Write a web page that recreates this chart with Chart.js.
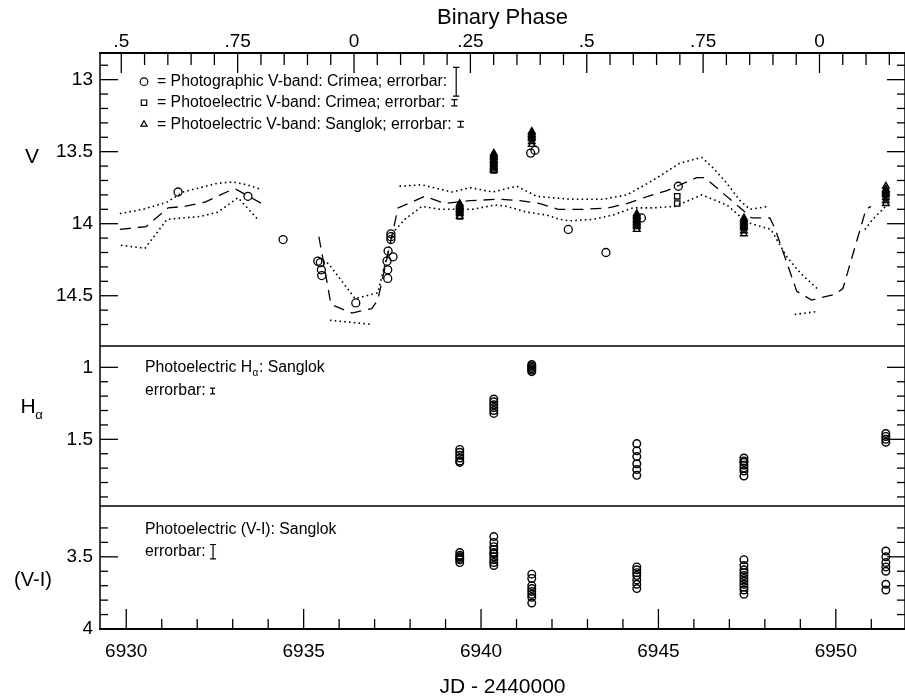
<!DOCTYPE html>
<html>
<head>
<meta charset="utf-8">
<title>V, Hα and (V-I) light curves</title>
<script src="https://cdn.jsdelivr.net/npm/chart.js@4.4.1/dist/chart.umd.min.js"></script>
<style>
html,body{margin:0;padding:0;background:#ffffff;}
#box{position:relative;width:905px;height:698px;}
canvas{display:block;}
</style>
</head>
<body>
<div id="box"><canvas id="chart" width="905" height="698"></canvas></div>
<script>
// ================= DATA (JD - 2440000) =================
const T0 = 6936.42;     // epoch of binary phase 0
const PERIOD = 13.12;   // orbital period (days)
const phaseTickPhases = [-0.5, -0.25, 0, 0.25, 0.5, 0.75, 1.0];
const phaseTickLabels = ['.5', '.75', '0', '.25', '.5', '.75', '0'];
const jdTicks = [6930, 6935, 6940, 6945, 6950];
const vTicks = [13, 13.5, 14, 14.5];
const haTicks = [1, 1.5];
const viTicks = [3.5, 4];

// Photographic V-band: Crimea (open circles)
const photoJD = [6931.46, 6933.43, 6934.42, 6935.40, 6935.47, 6935.50, 6935.51, 6936.47,
                 6937.35, 6937.37, 6937.37, 6937.38, 6937.52, 6937.46, 6937.46, 6937.46,
                 6941.40, 6941.52, 6942.46, 6943.52, 6944.52, 6945.56];
const photoV  = [13.78, 13.81, 14.11, 14.26, 14.27, 14.32, 14.36, 14.55,
                 14.26, 14.32, 14.38, 14.19, 14.23, 14.07, 14.09, 14.11,
                 13.51, 13.49, 14.04, 14.20, 13.96, 13.74];

// Photoelectric V-band: Crimea (squares)
const crimeaJD = [6945.53, 6945.53, 6940.36, 6939.40];
const crimeaV  = [13.81, 13.86, 13.63, 13.95];

// Sanglok nights and photoelectric measurements
const sanglokNights = [6939.40, 6940.36, 6941.43, 6944.39, 6947.41, 6951.41];
const sanglokV = [
  [13.86, 13.87, 13.88, 13.89, 13.90, 13.91, 13.92, 13.93, 13.95],
  [13.51, 13.52, 13.53, 13.54, 13.55, 13.56, 13.57, 13.58, 13.59, 13.60, 13.61, 13.62, 13.63],
  [13.36, 13.37, 13.38, 13.39, 13.40, 13.41, 13.43, 13.45],
  [13.93, 13.94, 13.95, 13.96, 13.97, 13.98, 13.99, 14.00, 14.01, 14.02, 14.04],
  [13.96, 13.97, 13.98, 13.99, 14.00, 14.01, 14.02, 14.03, 14.05, 14.07],
  [13.74, 13.76, 13.77, 13.78, 13.79, 13.80, 13.82, 13.84, 13.86]
];
const sanglokHa = [
  [1.57, 1.59, 1.61, 1.63, 1.65, 1.66],
  [1.22, 1.24, 1.26, 1.28, 1.30, 1.32],
  [0.98, 0.99, 1.00, 1.01, 1.02, 1.03],
  [1.53, 1.58, 1.62, 1.67, 1.71, 1.75],
  [1.63, 1.65, 1.66, 1.68, 1.70, 1.72, 1.755],
  [1.46, 1.48, 1.50, 1.52]
];
const sanglokVI = [
  [3.47, 3.49, 3.50, 3.51, 3.52, 3.54],
  [3.36, 3.40, 3.43, 3.45, 3.47, 3.48, 3.50, 3.52, 3.54, 3.56],
  [3.62, 3.65, 3.70, 3.72, 3.74, 3.76, 3.78, 3.82],
  [3.57, 3.59, 3.61, 3.63, 3.66, 3.69, 3.72],
  [3.52, 3.56, 3.59, 3.61, 3.63, 3.65, 3.67, 3.69, 3.71, 3.73, 3.76],
  [3.46, 3.50, 3.54, 3.57, 3.60, 3.69, 3.73]
];

// Model light curve (dashed) and envelopes (dotted); null marks a gap
const modelJD = [6929.82, 6930.56, 6931.18, 6931.65, 6932.22, 6932.92, 6933.09, 6933.82, null,
  6935.43, 6935.77, 6936.36, 6936.92, 6937.09, 6937.66, 6938.42, 6938.98, 6939.69, 6940.53,
  6941.10, 6941.66, 6942.17, 6942.93, 6943.58, 6944.11, 6944.70, 6945.24, 6946.08, 6946.31,
  6947.30, 6947.63, 6948.14, 6948.28, 6948.90, 6949.32, 6949.97, 6950.20, 6950.85, 6950.99];
const modelV = [14.04, 14.02, 13.89, 13.88, 13.85, 13.77, 13.76, 13.86, null,
  14.09, 14.56, 14.62, 14.59, 14.53, 13.89, 13.81, 13.86, 13.84, 13.83,
  13.84, 13.86, 13.90, 13.90, 13.89, 13.86, 13.81, 13.77, 13.68, 13.68,
  13.89, 13.96, 13.96, 14.03, 14.47, 14.53, 14.49, 14.45, 13.90, 13.88];

const envAJD = [6929.82, 6930.47, 6931.15, 6931.60, 6932.56, 6933.01, 6933.40, 6933.77, null,
  6937.70, 6938.33, 6938.84, 6939.18, 6939.69, 6940.33, 6941.01, 6941.57, 6942.50, 6943.43,
  6944.11, 6944.84, 6945.60, 6946.22, 6946.53, 6946.93, 6947.30, 6947.58, 6948.08];
const envAV = [13.93, 13.90, 13.85, 13.78, 13.72, 13.71, 13.73, 13.76, null,
  13.74, 13.73, 13.76, 13.78, 13.75, 13.78, 13.74, 13.81, 13.83, 13.83,
  13.80, 13.70, 13.58, 13.54, 13.61, 13.72, 13.84, 13.90, 13.88];

const envBJD = [6929.85, 6930.53, 6931.15, 6932.08, 6932.58, 6933.15, 6933.71, null,
  6935.66, 6935.74, 6936.45, 6937.09, 6937.52, 6937.85, 6938.33, 6938.84, 6939.77, 6940.39,
  6940.73, 6941.29, 6941.86, 6942.22, 6942.50, 6943.15, 6943.72, 6944.28, 6944.84, 6945.46,
  6946.22, 6946.93, 6947.49, 6948.17, 6948.62, 6948.99, 6949.47, null,
  6950.82, 6951.04, 6951.44];
const envBV = [14.15, 14.17, 13.97, 13.95, 13.92, 13.82, 13.97, null,
  14.27, 14.29, 14.52, 14.48, 14.06, 13.97, 13.88, 13.90, 13.90, 13.87,
  13.88, 13.92, 13.94, 13.97, 13.98, 13.97, 13.94, 13.89, 13.89, 13.88,
  13.80, 13.87, 13.99, 14.04, 14.23, 14.34, 14.45, null,
  14.04, 13.97, 13.87];

const envCJD = [6935.74, 6936.95, null, 6948.84, 6949.47];
const envCV  = [14.67, 14.70, null, 14.63, 14.61];

// error bar half-lengths shown in the keys
const errPhoto = 0.10, errCrimea = 0.022, errSanglokV = 0.02, errHa = 0.02, errVI = 0.05;

// axis limits
const xMin = 6929.26, xMax = 6951.95;
const vMin = 12.815, vMax = 14.849;
const haMin = 0.852, haMax = 1.963;
const viMin = 3.148, viMax = 4.0;

// ================= BUILD =================
const FONT = "'Liberation Sans', Arial, Helvetica, sans-serif";
const fontStr = s => s + 'px ' + FONT;

function segments(xs, ys) {
  const out = []; let cur = [];
  xs.forEach((x, i) => {
    if (x === null || ys[i] === null) { if (cur.length) out.push(cur); cur = []; }
    else cur.push({x: x, y: ys[i]});
  });
  if (cur.length) out.push(cur);
  return out;
}
function pairs(xs, ys) { return xs.map((x, i) => ({x: x, y: ys[i]})); }
function nightly(nights, vals) {
  const out = [];
  nights.forEach((n, i) => vals[i].forEach(v => out.push({x: n, y: v})));
  return out;
}
function lineDs(data, dash, w) {
  return {data, xAxisID: 'x', yAxisID: 'yV', showLine: true, borderColor: '#000',
    borderWidth: w, borderDash: dash, borderCapStyle: 'butt', pointRadius: 0,
    pointHoverRadius: 0, fill: false, tension: 0, spanGaps: false, order: 2};
}
function pointDs(data, yAxisID, style, r, bw) {
  return {data, xAxisID: 'x', yAxisID, showLine: false, pointStyle: style,
    pointRadius: r, pointHoverRadius: r, pointBorderColor: '#000', borderColor: '#000',
    pointBackgroundColor: 'rgba(0,0,0,0)', backgroundColor: 'rgba(0,0,0,0)',
    pointBorderWidth: bw, borderWidth: bw, order: 0};
}

const datasets = [];
segments(modelJD, modelV).forEach(s => datasets.push(lineDs(s, [11, 7], 1.3)));
segments(envAJD, envAV).forEach(s => datasets.push(lineDs(s, [1.6, 3.2], 1.6)));
segments(envBJD, envBV).forEach(s => datasets.push(lineDs(s, [1.6, 3.2], 1.6)));
segments(envCJD, envCV).forEach(s => datasets.push(lineDs(s, [1.6, 3.2], 1.6)));
datasets.push(pointDs(pairs(photoJD, photoV), 'yV', 'circle', 4, 1.3));
datasets.push(pointDs(pairs(crimeaJD, crimeaV), 'yV', 'rect', 3.8, 1.3));
datasets.push(pointDs(nightly(sanglokNights, sanglokV), 'yV', 'triangle', 3.8, 1.4));
datasets.push(pointDs(nightly(sanglokNights, sanglokHa), 'yH', 'circle', 3.8, 1.45));
datasets.push(pointDs(nightly(sanglokNights, sanglokVI), 'yVI', 'circle', 3.8, 1.4));

// ---------- plugin: frame and inward tick marks ----------
const framePlugin = {
  id: 'frame',
  afterDraw(chart) {
    const {ctx, chartArea: a, scales} = chart;
    const {x, yV, yH, yVI} = scales;
    const seg = (x1, y1, x2, y2) => { ctx.beginPath(); ctx.moveTo(x1, y1); ctx.lineTo(x2, y2); ctx.stroke(); };
    ctx.save();
    ctx.strokeStyle = '#000';
    ctx.lineCap = 'butt';
    ctx.lineWidth = 1.3;
    // bottom JD ticks
    for (let d = Math.ceil(xMin); d <= xMax; d++) {
      const px = x.getPixelForValue(d);
      seg(px, a.bottom, px, a.bottom - (d % 5 === 0 ? 20 : 10));
    }
    // top phase ticks (every 0.05)
    for (let k = -12; k <= 26; k++) {
      const jd = T0 + k * 0.05 * PERIOD;
      if (jd < xMin || jd > xMax) continue;
      const px = x.getPixelForValue(jd);
      seg(px, a.top, px, a.top + (k % 5 === 0 ? 20 : 12));
    }
    // y ticks, both sides
    const yTicks = (scale, from, to) => {
      for (let i = from; i <= to; i++) {
        const py = scale.getPixelForValue(i / 10);
        const L = (i % 5 === 0) ? 18 : 8;
        seg(a.left, py, a.left + L, py);
        seg(a.right, py, a.right - L, py);
      }
    };
    yTicks(yV, 129, 147);
    yTicks(yH, 10, 19);
    yTicks(yVI, 33, 39);
    // frame
    ctx.lineWidth = 2.2;
    seg(a.left - 1, a.top, a.right, a.top);
    seg(a.left - 1, a.bottom, a.right, a.bottom);
    ctx.lineWidth = 1.5;
    seg(a.left, a.top, a.left, a.bottom);
    seg(a.right, a.top, a.right, a.bottom);
    seg(a.left, yV.bottom, a.right, yV.bottom);
    seg(a.left, yH.bottom, a.right, yH.bottom);
    ctx.restore();
  }
};

// ---------- plugin: keys and axis titles ----------
function drawSym(ctx, sym, x, y) {
  ctx.beginPath();
  if (sym === 'circle') ctx.arc(x, y, 3.8, 0, Math.PI * 2);
  else if (sym === 'rect') ctx.rect(x - 2.7, y - 2.7, 5.4, 5.4);
  else { const r = 3.6; ctx.moveTo(x, y - r); ctx.lineTo(x + 0.866 * r, y + 0.5 * r); ctx.lineTo(x - 0.866 * r, y + 0.5 * r); ctx.closePath(); }
  ctx.lineWidth = 1.2; ctx.stroke();
}
function errBar(ctx, x, y, h, cap) {
  ctx.lineWidth = 1.2;
  ctx.beginPath();
  ctx.moveTo(x, y - h); ctx.lineTo(x, y + h);
  ctx.moveTo(x - cap, y - h); ctx.lineTo(x + cap, y - h);
  ctx.moveTo(x - cap, y + h); ctx.lineTo(x + cap, y + h);
  ctx.stroke();
}
const KEY_FONT = 15.8;
const textPlugin = {
  id: 'texts',
  afterDraw(chart) {
    const {ctx, chartArea: a, scales} = chart;
    const {yV, yH, yVI} = scales;
    ctx.save();
    ctx.fillStyle = '#000'; ctx.strokeStyle = '#000';
    ctx.textBaseline = 'middle';
    // y-axis titles (horizontal)
    ctx.textAlign = 'center';
    ctx.font = fontStr(21);
    ctx.fillText('V', a.left - 68, yV.top + 104);
    ctx.fillText('H', a.left - 72, yH.top + 61);
    ctx.font = fontStr(13);
    ctx.fillText('α', a.left - 61, yH.top + 69);
    ctx.font = fontStr(20);
    ctx.fillText('(V-I)', a.left - 67, yVI.top + 74);

    // V-band key
    ctx.textAlign = 'left';
    ctx.font = fontStr(KEY_FONT);
    const rows = [
      {dy: 28.7, sym: 'circle', txt: '= Photographic V-band: Crimea; errorbar:', err: errPhoto},
      {dy: 49.7, sym: 'rect', txt: '= Photoelectric V-band: Crimea; errorbar:', err: errCrimea},
      {dy: 71.3, sym: 'triangle', txt: '= Photoelectric V-band: Sanglok; errorbar:', err: errSanglokV}
    ];
    rows.forEach(r => {
      const y = a.top + r.dy;
      drawSym(ctx, r.sym, a.left + 44, y);
      ctx.fillText(r.txt, a.left + 57, y);
      const ex = a.left + 57 + ctx.measureText(r.txt).width + 9;
      const h = Math.abs(yV.getPixelForValue(13 + r.err) - yV.getPixelForValue(13));
      errBar(ctx, ex, y, h, 3.2);
    });

    // H-alpha key
    let tx = a.left + 45, ty = yH.top + 22;
    ctx.font = fontStr(KEY_FONT);
    ctx.fillText('Photoelectric H', tx, ty);
    tx += ctx.measureText('Photoelectric H').width + 0.5;
    ctx.font = fontStr(10);
    ctx.fillText('α', tx, ty + 5);
    tx += ctx.measureText('α').width + 0.5;
    ctx.font = fontStr(KEY_FONT);
    ctx.fillText(': Sanglok', tx, ty);
    ty = yH.top + 45;
    ctx.fillText('errorbar:', a.left + 45, ty);
    let ex = a.left + 45 + ctx.measureText('errorbar:').width + 7;
    let h = Math.abs(yH.getPixelForValue(1 + errHa) - yH.getPixelForValue(1));
    errBar(ctx, ex, ty, h, 2.5);

    // (V-I) key
    ty = yVI.top + 23.3;
    ctx.fillText('Photoelectric (V-I): Sanglok', a.left + 45, ty);
    ty = yVI.top + 45.7;
    ctx.fillText('errorbar:', a.left + 45, ty);
    ex = a.left + 45 + ctx.measureText('errorbar:').width + 7.5;
    h = Math.abs(yVI.getPixelForValue(3.5 + errVI) - yVI.getPixelForValue(3.5));
    errBar(ctx, ex, ty, h, 3);
    ctx.restore();
  }
};

const tickFont = {family: FONT, size: 19};
const yCommon = (min, max, weight, ticksArr) => ({
  type: 'linear', position: 'left', stack: 'panels', stackWeight: weight,
  reverse: true, min, max,
  grid: {display: false, drawTicks: false}, border: {display: false},
  ticks: {font: tickFont, color: '#000', padding: 7, autoSkip: false,
          callback: v => String(v)},
  afterBuildTicks: s => { s.ticks = ticksArr.map(v => ({value: v})); },
  afterFit: s => { s.width = 100; s.paddingTop = 0; s.paddingBottom = 0; }
});
const noPad = s => { s.paddingLeft = 0; s.paddingRight = 0; };

new Chart(document.getElementById('chart'), {
  type: 'scatter',
  data: {datasets},
  options: {
    responsive: false, animation: false, devicePixelRatio: 1,
    events: [],
    layout: {padding: 0, autoPadding: false},
    plugins: {legend: {display: false}, tooltip: {enabled: false}},
    scales: {
      xTop: {
        type: 'linear', position: 'top', min: xMin, max: xMax,
        grid: {display: false, drawTicks: false}, border: {display: false},
        ticks: {font: tickFont, color: '#000', padding: 0, autoSkip: false, maxRotation: 0, minRotation: 0,
                callback: (v, i) => phaseTickLabels[i]},
        afterBuildTicks: s => { s.ticks = phaseTickPhases.map(p => ({value: T0 + p * PERIOD})); },
        title: {display: true, text: 'Binary Phase', color: '#000',
                font: {family: FONT, size: 22, lineHeight: 1}, padding: {top: 7, bottom: 0}},
        afterFit: s => { s.height = 53; noPad(s); }
      },
      x: {
        type: 'linear', position: 'bottom', min: xMin, max: xMax,
        grid: {display: false, drawTicks: false}, border: {display: false},
        ticks: {font: tickFont, color: '#000', padding: 11, autoSkip: false, maxRotation: 0, minRotation: 0,
                callback: v => String(v)},
        afterBuildTicks: s => { s.ticks = jdTicks.map(v => ({value: v})); },
        title: {display: true, text: 'JD - 2440000', color: '#000',
                font: {family: FONT, size: 21, lineHeight: 1}, padding: {top: 0, bottom: 0}},
        afterFit: s => { s.height = 69; noPad(s); }
      },
      // left-hand stacked axes are laid out in reverse order: listed bottom panel first
      yVI: yCommon(viMin, viMax, 123, viTicks),
      yH: yCommon(haMin, haMax, 160, haTicks),
      yV: yCommon(vMin, vMax, 293, vTicks)
    }
  },
  plugins: [framePlugin, textPlugin]
});
</script>
</body>
</html>
